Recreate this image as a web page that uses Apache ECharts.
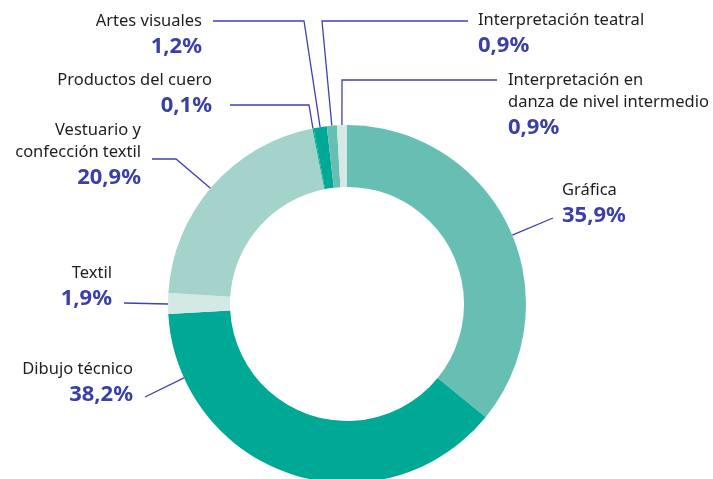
<!DOCTYPE html>
<html>
<head>
<meta charset="utf-8">
<script src="https://cdn.jsdelivr.net/npm/echarts@6/dist/echarts.min.js"></script>
<style>
html,body{margin:0;padding:0;background:#fff;}
#c{width:713px;height:479px;}
</style>
</head>
<body>
<div id="c"></div>
<script>
const categories = ['Gráfica', 'Dibujo técnico', 'Textil', 'Vestuario y\nconfección textil', 'Productos del cuero', 'Artes visuales', 'Interpretación teatral', 'Interpretación en\ndanza de nivel intermedio'];
const values = [35.9, 38.2, 1.9, 20.9, 0.1, 1.2, 0.9, 0.9];
const sliceColors = ['#66bfb2', '#00a896', '#d4e9e6', '#a3d3ca', '#00a896', '#00a896', '#66bfb2', '#d4e9e6'];

// layout of the chart (not data)
const CX = 347, CY = 304, R0 = 117, R1 = 179;
const labelLayoutSpec = [
  { x: 562, y: 179, align: 'left', angle: 67.4, bend: null, end: [553, 218] },
  { x: 133, y: 358, align: 'right', angle: 245.6, bend: null, end: [145, 397] },
  { x: 112, y: 262, align: 'right', angle: 270, bend: null, end: [124, 303] },
  { x: 141, y: 119, align: 'right', angle: 310.3, bend: [176, 159], end: [152, 159] },
  { x: 212, y: 69, align: 'right', angle: null, bend: [309, 105], end: [230, 105] },
  { x: 202, y: 10, align: 'right', angle: null, bend: [304, 21], end: [213, 21] },
  { x: 478, y: 9, align: 'left', angle: null, bend: [322, 21], end: [468, 21] },
  { x: 508, y: 69, align: 'left', angle: null, bend: [342, 80], end: [497, 80] }
];

const fmtPct = v => String(v).replace('.', ',') + '%';

const chart = echarts.init(document.getElementById('c'), null, { renderer: 'canvas' });
chart.setOption({
  animation: false,
  backgroundColor: '#ffffff',
  series: [{
    type: 'pie',
    center: [CX, CY],
    radius: [R0, R1],
    startAngle: 90,
    clockwise: true,
    avoidLabelOverlap: false,
    minShowLabelAngle: 0,
    data: categories.map((name, i) => ({ name: name, value: values[i], itemStyle: { color: sliceColors[i] } })),
    itemStyle: { borderWidth: 0 },
    emphasis: { disabled: true },
    label: {
      show: true,
      position: 'outside',
      formatter: p => p.name.split('\n').map(s => '{n|' + s + '}').join('\n') + '\n{v|' + fmtPct(p.value) + '}',
      rich: {
        n: { fontFamily: 'Noto Sans', fontSize: 16.5, color: '#1e1e1e', lineHeight: 22 },
        v: { fontFamily: 'Noto Sans', fontSize: 22, fontWeight: 'bold', color: '#3b40a8', lineHeight: 29 }
      }
    },
    labelLine: {
      show: true,
      length: 10,
      length2: 10,
      lineStyle: { color: '#3d43b0', width: 1.3 }
    },
    labelLayout: function (params) {
      const s = labelLayoutSpec[params.dataIndex];
      let start;
      if (s.angle != null) {
        const a = s.angle * Math.PI / 180;
        start = [CX + R1 * Math.sin(a), CY - R1 * Math.cos(a)];
      } else {
        start = params.labelLinePoints ? params.labelLinePoints[0].slice() : [CX, CY - R1];
      }
      const mid = s.bend ? s.bend : s.end;
      return {
        x: s.x,
        y: s.y,
        align: s.align,
        verticalAlign: 'top',
        labelLinePoints: [start, mid, s.end]
      };
    }
  }]
});
</script>
</body>
</html>
